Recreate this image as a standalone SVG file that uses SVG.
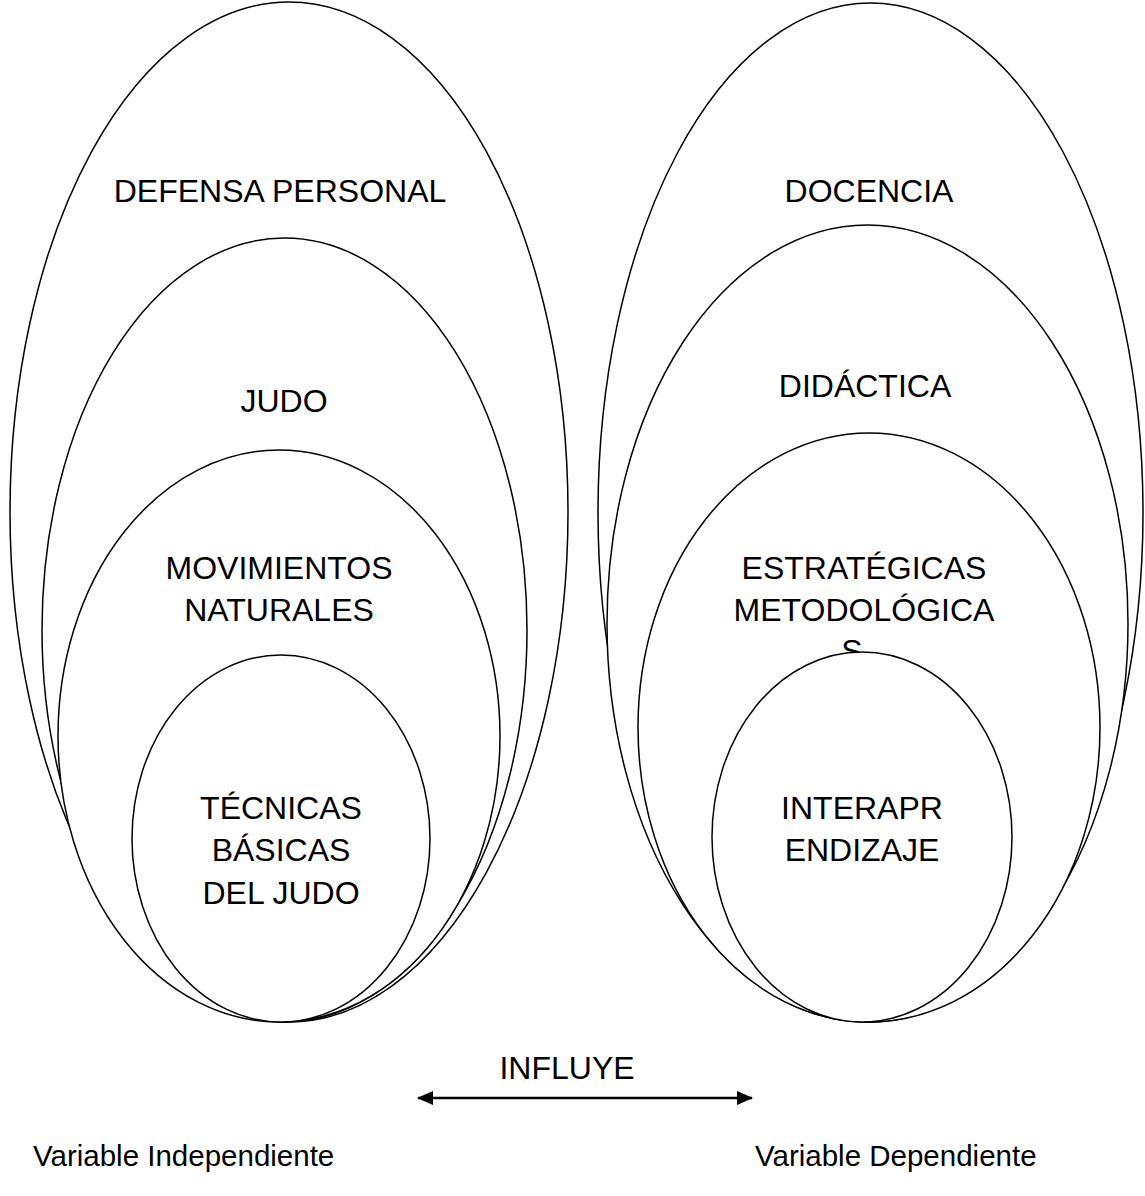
<svg xmlns="http://www.w3.org/2000/svg" width="1145" height="1196" viewBox="0 0 1145 1196">
<defs>
<style>
.e{fill:#fff;stroke:#000;stroke-width:1.5}
.t{font-family:"Liberation Sans",Arial,sans-serif;font-size:32px;fill:#000;text-anchor:middle}
.b{font-family:"Liberation Sans",Arial,sans-serif;font-size:29.5px;fill:#000}
</style>
<marker id="ah" viewBox="0 0 16 14" refX="15" refY="7" markerWidth="16" markerHeight="14" orient="auto-start-reverse" markerUnits="userSpaceOnUse">
<path d="M0,0 L16,7 L0,14 Z" fill="#000"/>
</marker>
</defs>
<rect width="1145" height="1196" fill="#fff"/>
<g id="defensa-personal">
<ellipse class="e" cx="289" cy="512" rx="279" ry="510"/>
<text class="t" x="280" y="202">DEFENSA PERSONAL</text>
</g>
<g id="judo">
<ellipse class="e" cx="284.5" cy="630" rx="242.5" ry="392"/>
<text class="t" x="284" y="412">JUDO</text>
</g>
<g id="movimientos-naturales">
<ellipse class="e" cx="279" cy="736" rx="221" ry="286"/>
<text class="t" x="279" y="579">MOVIMIENTOS</text>
<text class="t" x="279" y="621">NATURALES</text>
</g>
<g id="tecnicas-basicas">
<ellipse class="e" cx="281" cy="838.5" rx="149" ry="183.5"/>
<text class="t" x="281" y="819">TÉCNICAS</text>
<text class="t" x="281" y="861">BÁSICAS</text>
<text class="t" x="281" y="904">DEL JUDO</text>
</g>
<g id="docencia">
<ellipse class="e" cx="870.5" cy="512.5" rx="272.5" ry="509.5"/>
<text class="t" x="869" y="202">DOCENCIA</text>
</g>
<g id="didactica">
<ellipse class="e" cx="867.5" cy="623.5" rx="260.5" ry="398.5"/>
<text class="t" x="865" y="397">DIDÁCTICA</text>
</g>
<g id="estrategicas">
<ellipse class="e" cx="869" cy="727.5" rx="231" ry="294.5"/>
<text class="t" x="864" y="579">ESTRATÉGICAS</text>
<text class="t" x="864" y="621">METODOLÓGICA</text>
<text class="t" x="852" y="662">S</text>
</g>
<g id="interaprendizaje">
<ellipse class="e" cx="862" cy="837" rx="150" ry="185"/>
<text class="t" x="862" y="819">INTERAPR</text>
<text class="t" x="862" y="861">ENDIZAJE</text>
</g>
<g id="connectors">
<line x1="418" y1="1098" x2="752" y2="1098" stroke="#000" stroke-width="2.5" marker-start="url(#ah)" marker-end="url(#ah)"/>
</g>
<g id="labels">
<text class="t" x="567" y="1079">INFLUYE</text>
<text class="b" x="33" y="1166">Variable Independiente</text>
<text class="b" x="755" y="1166">Variable Dependiente</text>
</g>
</svg>
